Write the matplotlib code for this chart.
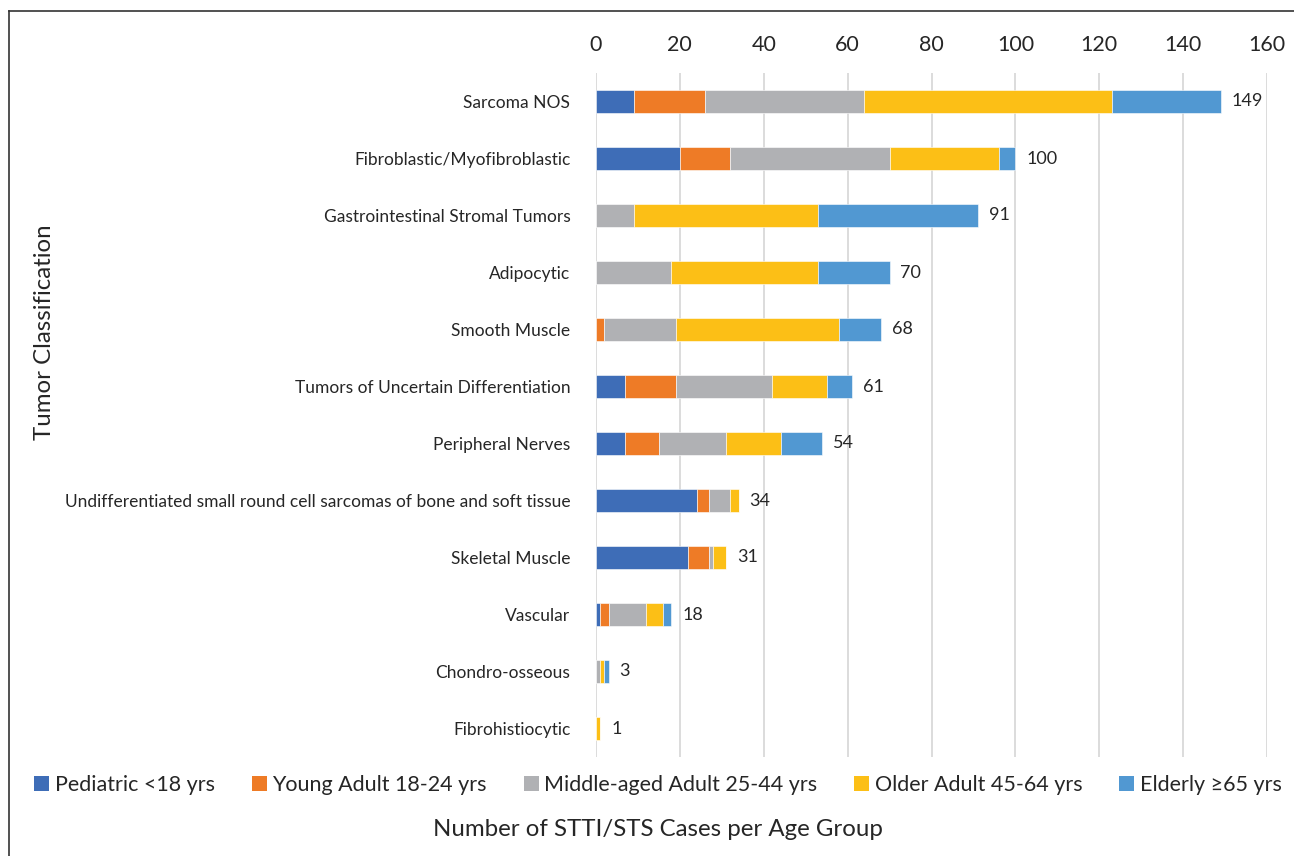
import numpy as np
import matplotlib
matplotlib.use("Agg")
import matplotlib.pyplot as plt
from matplotlib.lines import Line2D
from matplotlib.patches import Patch

plt.rcParams['font.family'] = ['Lato', 'DejaVu Sans']

# --- data ---
categories = [
    "Sarcoma NOS",
    "Fibroblastic/Myofibroblastic",
    "Gastrointestinal Stromal Tumors",
    "Adipocytic",
    "Smooth Muscle",
    "Tumors of Uncertain Differentiation",
    "Peripheral Nerves",
    "Undifferentiated small round cell sarcomas of bone and soft tissue",
    "Skeletal Muscle",
    "Vascular",
    "Chondro-osseous",
    "Fibrohistiocytic",
]
pediatric   = [9, 20, 0, 0, 0, 7, 7, 24, 22, 1, 0, 0]
young_adult = [17, 12, 0, 0, 2, 12, 8, 3, 5, 2, 0, 0]
middle_aged = [38, 38, 9, 18, 17, 23, 16, 5, 1, 9, 1, 0]
older_adult = [59, 26, 44, 35, 39, 13, 13, 2, 3, 4, 1, 1]
elderly     = [26, 4, 38, 17, 10, 6, 10, 0, 0, 2, 1, 0]

series_names = ["Pediatric <18 yrs", "Young Adult 18-24 yrs",
                "Middle-aged Adult 25-44 yrs", "Older Adult 45-64 yrs",
                "Elderly \u226565 yrs"]
series_colors = ["#3E6DB7", "#EE7B26", "#B0B1B4", "#FCBF16", "#5198D2"]
x_ticks = [0, 20, 40, 60, 80, 100, 120, 140, 160]

series = [pediatric, young_adult, middle_aged, older_adult, elderly]
W, H = 1294, 856
fig = plt.figure(figsize=(W / 100, H / 100), dpi=100)
ax = fig.add_axes([596 / W, 1 - 757 / H, (1267 - 596) / W, 684 / H])

y = np.arange(len(categories))
left = np.zeros(len(categories))
for vals, name, col in zip(series, series_names, series_colors):
    v = np.array(vals, dtype=float)
    ax.barh(y, v, left=left, height=0.39, color=col, label=name, zorder=3,
            edgecolor='white', linewidth=0.4)
    left += v

totals = left
for yi, t in zip(y, totals):
    ax.text(t + 2.6, yi, f"{int(t)}", va='center', ha='left',
            fontsize=13, color='#262626')

ax.set_xlim(0, 160)
ax.set_ylim(len(categories) - 0.5, -0.5)
ax.set_xticks(x_ticks)
ax.xaxis.tick_top()
ax.tick_params(axis='x', length=0, pad=13, labelsize=15.5, labelcolor='#262626')
ax.set_yticks(y)
ax.set_yticklabels(categories)
ax.tick_params(axis='y', length=0, pad=18.5, labelsize=12.5, labelcolor='#262626')
ax.grid(axis='x', color='#D9D9D9', linewidth=1.3, zorder=0)
for s in ax.spines.values():
    s.set_visible(False)

# legend below the plot
handles = [Patch(facecolor=c, edgecolor='none') for c in series_colors]
fig.legend(handles, series_names, loc='center', ncol=5,
           bbox_to_anchor=(658 / W, 1 - 785 / H), frameon=False,
           fontsize=15.5, handlelength=0.7, handleheight=0.7,
           handletextpad=0.25, columnspacing=1.72, labelcolor='#262626')

fig.text(658 / W, 1 - 829 / H, "Number of STTI/STS Cases per Age Group",
         ha='center', va='center', fontsize=17.3, color='#262626')
fig.text(45 / W, 1 - 332 / H, "Tumor Classification", rotation=90,
         ha='center', va='center', fontsize=17.3, color='#262626')

# thin frame on the left and top edges
fig.add_artist(Line2D([8.5 / W, 8.5 / W], [0, 1 - 11 / H], transform=fig.transFigure,
                      color='#333333', linewidth=1.2))
fig.add_artist(Line2D([8.5 / W, 1], [1 - 11 / H, 1 - 11 / H], transform=fig.transFigure,
                      color='#333333', linewidth=1.2))

fig.savefig("out.png", dpi=100)
